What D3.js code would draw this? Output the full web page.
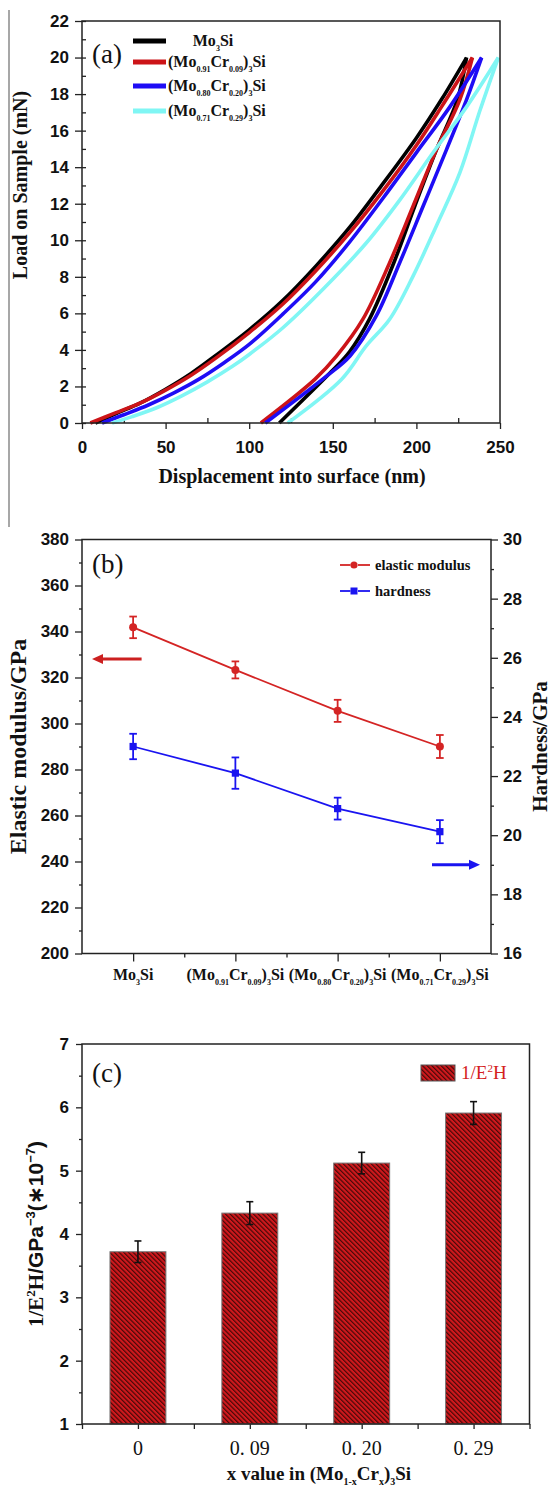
<!DOCTYPE html>
<html><head><meta charset="utf-8">
<script src="https://cdn.jsdelivr.net/npm/d3@7"></script>
<style>body{margin:0;background:#fff} svg{display:block}</style>
</head><body><svg id="c" width="555" height="1491"></svg>
<script>
// ---------------- DATA ----------------
// panel (a): load–displacement curves
const seriesNames = ["Mo3Si", "x=0.09", "x=0.20", "x=0.29"];
const alloyMo = ["", "0.91", "0.80", "0.71"];
const alloyCr = ["", "0.09", "0.20", "0.29"];

const loadDepth_0  = [8,20,35,50,65,80,100,120,140,160,180,200,215,230];
const loadForce_0  = [0,0.5,1.1,1.85,2.7,3.7,5.1,6.7,8.6,10.7,13.1,15.6,17.7,20];
const unloadDepth_0 = [230,224.5,212,199,186.5,172,160,149,118];
const unloadForce_0 = [20,17.7,14.96,11.86,8.77,5.7,3.9,2.8,0];

const loadDepth_1  = [5,20,35,50,65,80,100,120,140,160,180,200,215,233.5];
const loadForce_1  = [0,0.55,1.1,1.8,2.6,3.55,4.95,6.5,8.35,10.4,12.7,15.2,17.3,20];
const unloadDepth_1 = [233.5,226,212,198,184,168,152.3,139.4,107];
const unloadForce_1 = [20,17.7,14.96,11.86,8.77,5.68,3.67,2.4,0];

const loadDepth_2  = [12,25,40,55,70,85,100,120,140,160,180,200,220,239];
const loadForce_2  = [0,0.45,1.0,1.65,2.4,3.3,4.3,5.95,7.75,9.9,12.3,14.8,17.3,20];
const unloadDepth_2 = [239,230,218,204,190,176,160.3,145.3,109.6];
const unloadForce_2 = [20,17.7,14.96,11.86,8.77,5.86,3.67,2.5,0];

const loadDepth_3  = [18,30,45,60,75,90,100,120,145,170,190,210,230,249];
const loadForce_3  = [0,0.35,0.85,1.5,2.25,3.1,3.75,5.2,7.4,9.85,12.2,14.8,17.3,20];
const unloadDepth_3 = [249,238,226,212,198,184,170,155.3,123];
const unloadForce_3 = [20,17.1,13.7,10.8,8.04,5.68,4.22,2.4,0];

const xTicksA = [0,50,100,150,200,250];
const yTicksA = [0,2,4,6,8,10,12,14,16,18,20,22];

// panel (b)
const elasticModulus = [341.8, 323.3, 305.5, 290];
const elasticErr     = [4.7, 3.7, 4.8, 5];
const hardness       = [23.0, 22.1, 20.9, 20.12];
const hardnessErr    = [0.43, 0.53, 0.37, 0.39];
const yTicksBL = [200,220,240,260,280,300,320,340,360,380];
const yTicksBR = [16,18,20,22,24,26,28,30];

// panel (c)
const xLabelsC = ["0", "0. 09", "0. 20", "0. 29"];
const invE2H    = [3.72, 4.33, 5.12, 5.91];
const invE2HErr = [0.17, 0.18, 0.17, 0.18];
const yTicksC = [1,2,3,4,5,6,7];

// ---------------- DRAW ----------------
const svg = d3.select('#c');
const SERIF = "'Liberation Serif','Times New Roman',serif";
const SANS = "'Liberation Sans',Arial,sans-serif";
const colorsA = ['#000000', '#cc1418', '#1e0cf5', '#80f6f4'];

function rich(sel, parts, subSize, shift) {
  let cur = 0;
  parts.forEach(p => {
    const target = p.k === 'sub' ? shift : p.k === 'sup' ? -shift : 0;
    const t = sel.append('tspan').text(p.t).attr('dy', target - cur);
    if (p.k) t.attr('font-size', subSize);
    if (p.f) t.attr('font-family', p.f);
    cur = target;
  });
}
function alloyParts(i) {
  if (alloyMo[i] === '') return [{t:'Mo'},{t:'3',k:'sub'},{t:'Si'}];
  return [{t:'(Mo'},{t:alloyMo[i],k:'sub'},{t:'Cr'},{t:alloyCr[i],k:'sub'},{t:')'},{t:'3',k:'sub'},{t:'Si'}];
}
function styleAxis(g, size) {
  g.select('.domain').remove();
  g.selectAll('.tick line').attr('stroke', '#222').attr('stroke-width', 1.3);
  g.selectAll('.tick text').attr('font-family', SANS).attr('font-weight', 'bold')
    .attr('font-size', size).attr('fill', '#111');
}

// stray left border line
svg.append('line').attr('x1', 9).attr('x2', 9).attr('y1', 10).attr('y2', 527)
  .attr('stroke', '#8a8a8a').attr('stroke-width', 1.5);

// ===== Panel (a) =====
const xA = d3.scaleLinear().domain([0, 250]).range([82, 500]);
const yA = d3.scaleLinear().domain([0, 22]).range([423, 21]);

const gAy = svg.append('g').attr('transform', 'translate(82,0)')
  .call(d3.axisLeft(yA).tickValues(yTicksA).tickSize(7).tickPadding(6));
styleAxis(gAy, 17);
const gAy2 = svg.append('g').attr('transform', 'translate(82,0)')
  .call(d3.axisLeft(yA).tickValues(d3.range(0, 23, 1)).tickSize(-4).tickFormat(''));
styleAxis(gAy2, 17);
const gAx = svg.append('g').attr('transform', 'translate(0,423)')
  .call(d3.axisBottom(xA).tickValues(xTicksA).tickSize(6).tickPadding(12));
styleAxis(gAx, 17);
const gAx2 = svg.append('g').attr('transform', 'translate(0,423)')
  .call(d3.axisBottom(xA).tickValues([25,75,125,175,225]).tickSize(-5).tickFormat(''));
styleAxis(gAx2, 17);

const lineA = d3.line().x(d => xA(d[0])).y(d => yA(d[1])).curve(d3.curveCatmullRom.alpha(0.5));
const curvesA = [
  [loadDepth_0, loadForce_0, unloadDepth_0, unloadForce_0],
  [loadDepth_1, loadForce_1, unloadDepth_1, unloadForce_1],
  [loadDepth_2, loadForce_2, unloadDepth_2, unloadForce_2],
  [loadDepth_3, loadForce_3, unloadDepth_3, unloadForce_3]
];
curvesA.forEach((c, i) => {
  const load = c[0].map((h, j) => [h, c[1][j]]);
  const unload = c[2].map((h, j) => [h, c[3][j]]);
  svg.append('path').attr('d', lineA(load)).attr('fill', 'none')
    .attr('stroke', colorsA[i]).attr('stroke-width', 3.6).attr('stroke-linejoin', 'round');
  svg.append('path').attr('d', lineA(unload)).attr('fill', 'none')
    .attr('stroke', colorsA[i]).attr('stroke-width', 3.6).attr('stroke-linejoin', 'round');
});
svg.append('rect').attr('x', 82).attr('y', 21).attr('width', 418).attr('height', 402)
  .attr('fill', 'none').attr('stroke', '#222').attr('stroke-width', 1.5);

// legend (a)
const legYA = [41, 62, 86, 111];
seriesNames.forEach((s, i) => {
  svg.append('line').attr('x1', 133).attr('x2', 166).attr('y1', legYA[i]).attr('y2', legYA[i])
    .attr('stroke', colorsA[i]).attr('stroke-width', 5);
  const t = svg.append('text').attr('y', legYA[i] + 5)
    .attr('font-family', SERIF).attr('font-weight', 'bold').attr('font-size', 16).attr('fill', '#111');
  if (i === 0) t.attr('x', 213).attr('text-anchor', 'middle'); else t.attr('x', 168);
  rich(t, alloyParts(i), 8, 5);
});
svg.append('text').attr('x', 92).attr('y', 63).text('(a)')
  .attr('font-family', SERIF).attr('font-size', 27).attr('fill', '#111');
svg.append('text').attr('transform', 'translate(27,185) rotate(-90)').attr('text-anchor', 'middle')
  .text('Load on Sample (mN)').attr('font-family', SERIF).attr('font-weight', 'bold')
  .attr('font-size', 20).attr('fill', '#111');
svg.append('text').attr('x', 292).attr('y', 483).attr('text-anchor', 'middle')
  .text('Displacement into surface (nm)').attr('font-family', SERIF).attr('font-weight', 'bold')
  .attr('font-size', 20).attr('fill', '#111');

// ===== Panel (b) =====
const xB = d3.scalePoint().domain(d3.range(4)).range([82, 491]).padding(0.5);
const yBL = d3.scaleLinear().domain([200, 380]).range([953.5, 539.5]);
const yBR = d3.scaleLinear().domain([16, 30]).range([953.5, 539.5]);

const gBl = svg.append('g').attr('transform', 'translate(82,0)')
  .call(d3.axisLeft(yBL).tickValues(yTicksBL).tickSize(7).tickPadding(6));
styleAxis(gBl, 17);
const gBl2 = svg.append('g').attr('transform', 'translate(82,0)')
  .call(d3.axisLeft(yBL).tickValues([210,230,250,270,290,310,330,350,370]).tickSize(3).tickFormat(''));
styleAxis(gBl2, 17);
const gBr = svg.append('g').attr('transform', 'translate(491,0)')
  .call(d3.axisRight(yBR).tickValues(yTicksBR).tickSize(7).tickPadding(5));
styleAxis(gBr, 17);
const gBr2 = svg.append('g').attr('transform', 'translate(491,0)')
  .call(d3.axisRight(yBR).tickValues([17,19,21,23,25,27,29]).tickSize(3).tickFormat(''));
styleAxis(gBr2, 17);
const gBx = svg.append('g').attr('transform', 'translate(0,953.5)')
  .call(d3.axisBottom(xB).tickSize(8).tickFormat(''));
styleAxis(gBx, 17);
const gBx2 = svg.append('g').attr('transform', 'translate(0,953.5)')
  .call(d3.axisBottom(d3.scaleLinear().domain([0, 4]).range([82, 491])).tickValues([1,2,3]).tickSize(4).tickFormat(''));
styleAxis(gBx2, 17);

svg.append('rect').attr('x', 82).attr('y', 539.5).attr('width', 409).attr('height', 414)
  .attr('fill', 'none').attr('stroke', '#222').attr('stroke-width', 1.5);

const redB = '#d42424', blueB = '#1a14f0';
svg.append('path').datum(elasticModulus)
  .attr('d', d3.line().x((d, i) => xB(i)).y(d => yBL(d)))
  .attr('fill', 'none').attr('stroke', redB).attr('stroke-width', 1.8);
svg.append('path').datum(hardness)
  .attr('d', d3.line().x((d, i) => xB(i)).y(d => yBR(d)))
  .attr('fill', 'none').attr('stroke', blueB).attr('stroke-width', 1.8);

function errBar(x, y1, y2, color, cap, w) {
  const g = svg.append('g').attr('stroke', color).attr('stroke-width', w);
  g.append('line').attr('x1', x).attr('x2', x).attr('y1', y1).attr('y2', y2);
  g.append('line').attr('x1', x - cap).attr('x2', x + cap).attr('y1', y1).attr('y2', y1);
  g.append('line').attr('x1', x - cap).attr('x2', x + cap).attr('y1', y2).attr('y2', y2);
}
elasticModulus.forEach((v, i) => {
  errBar(xB(i), yBL(v + elasticErr[i]), yBL(v - elasticErr[i]), redB, 3.8, 1.8);
  svg.append('circle').attr('cx', xB(i)).attr('cy', yBL(v)).attr('r', 4).attr('fill', redB);
});
hardness.forEach((v, i) => {
  errBar(xB(i), yBR(v + hardnessErr[i]), yBR(v - hardnessErr[i]), blueB, 3.8, 1.8);
  svg.append('rect').attr('x', xB(i) - 3.6).attr('y', yBR(v) - 3.6).attr('width', 7.2).attr('height', 7.2).attr('fill', blueB);
});

// x labels (b)
d3.range(4).forEach(i => {
  const t = svg.append('text').attr('x', xB(i)).attr('y', 980).attr('text-anchor', 'middle')
    .attr('font-family', SERIF).attr('font-weight', 'bold').attr('font-size', 16).attr('fill', '#111');
  rich(t, alloyParts(i), 8, 5);
});

// legend (b)
[[565, redB, 'elastic modulus', 'c'], [591, blueB, 'hardness', 's']].forEach(([y, col, lab, m]) => {
  svg.append('line').attr('x1', 340).attr('x2', 350.5).attr('y1', y).attr('y2', y).attr('stroke', col).attr('stroke-width', 1.8);
  svg.append('line').attr('x1', 358).attr('x2', 370).attr('y1', y).attr('y2', y).attr('stroke', col).attr('stroke-width', 1.8);
  if (m === 'c') svg.append('circle').attr('cx', 354).attr('cy', y).attr('r', 3.6).attr('fill', col);
  else svg.append('rect').attr('x', 350.5).attr('y', y - 3.5).attr('width', 7).attr('height', 7).attr('fill', col);
  svg.append('text').attr('x', 375).attr('y', y + 5).text(lab)
    .attr('font-family', SERIF).attr('font-weight', 'bold').attr('font-size', 14.5).attr('fill', '#111');
});
svg.append('text').attr('x', 92).attr('y', 573).text('(b)')
  .attr('font-family', SERIF).attr('font-size', 27).attr('fill', '#111');

// arrows (b)
const defs = svg.append('defs');
function arrowHead(x, y, dir, col) {
  svg.append('path').attr('d', `M${x},${y} L${x - dir * 11},${y - 5} L${x - dir * 11},${y + 5} Z`).attr('fill', col);
}
const yArrR = yBL(328);
svg.append('line').attr('x1', 100).attr('x2', 141.6).attr('y1', yArrR).attr('y2', yArrR).attr('stroke', '#cc2020').attr('stroke-width', 3);
arrowHead(92, yArrR, -1, '#cc2020');
const yArrB = yBR(19);
svg.append('line').attr('x1', 432).attr('x2', 472).attr('y1', yArrB).attr('y2', yArrB).attr('stroke', blueB).attr('stroke-width', 3);
arrowHead(480, yArrB, 1, blueB);

svg.append('text').attr('transform', `translate(26,${(539.5 + 953.5) / 2}) rotate(-90)`).attr('text-anchor', 'middle')
  .text('Elastic modulus/GPa').attr('font-family', SERIF).attr('font-weight', 'bold')
  .attr('font-size', 24).attr('fill', '#111');
svg.append('text').attr('transform', `translate(547,${(539.5 + 953.5) / 2}) rotate(-90)`).attr('text-anchor', 'middle')
  .text('Hardness/GPa').attr('font-family', SERIF).attr('font-weight', 'bold')
  .attr('font-size', 21).attr('fill', '#111');

// ===== Panel (c) =====
const xC = d3.scaleBand().domain(d3.range(4)).range([82, 529.5]).paddingInner(0.5).paddingOuter(0.25);
const yC = d3.scaleLinear().domain([1, 7]).range([1424, 1044]);

const pat = defs.append('pattern').attr('id', 'hatch').attr('patternUnits', 'userSpaceOnUse')
  .attr('width', 3.3).attr('height', 3.3).attr('patternTransform', 'rotate(-45)');
pat.append('rect').attr('width', 3.3).attr('height', 3.3).attr('fill', '#d0191d');
pat.append('line').attr('x1', 0.6).attr('x2', 0.6).attr('y1', 0).attr('y2', 3.3)
  .attr('stroke', '#3a0606').attr('stroke-width', 1.1);

const gCy = svg.append('g').attr('transform', 'translate(82,0)')
  .call(d3.axisLeft(yC).tickValues(yTicksC).tickFormat(d3.format('d')).tickSize(6).tickPadding(7));
styleAxis(gCy, 17);
const gCy2 = svg.append('g').attr('transform', 'translate(82,0)')
  .call(d3.axisLeft(yC).tickValues([1.5,2.5,3.5,4.5,5.5,6.5]).tickSize(3).tickFormat(''));
styleAxis(gCy2, 17);
const gCx = svg.append('g').attr('transform', 'translate(0,1424)')
  .call(d3.axisBottom(d3.scaleLinear().domain([0, 8]).range([82, 529.5])).tickValues(d3.range(0, 9)).tickSize(5).tickFormat(''));
styleAxis(gCx, 17);

invE2H.forEach((v, i) => {
  svg.append('rect').attr('x', xC(i)).attr('y', yC(v)).attr('width', xC.bandwidth()).attr('height', yC(1) - yC(v))
    .attr('fill', 'url(#hatch)').attr('stroke', '#777').attr('stroke-width', 1);
  const cx = xC(i) + xC.bandwidth() / 2;
  errBar(cx, yC(v + invE2HErr[i]), yC(v - invE2HErr[i]), '#111', 3.5, 1.6);
  svg.append('text').attr('x', cx).attr('y', 1455).attr('text-anchor', 'middle').text(xLabelsC[i])
    .attr('font-family', SERIF).attr('font-size', 20).attr('fill', '#111');
});
svg.append('rect').attr('x', 82).attr('y', 1044).attr('width', 447.5).attr('height', 380)
  .attr('fill', 'none').attr('stroke', '#222').attr('stroke-width', 1.5);

// legend (c)
svg.append('rect').attr('x', 421).attr('y', 1065).attr('width', 34).attr('height', 16)
  .attr('fill', 'url(#hatch)').attr('stroke', '#555').attr('stroke-width', 1);
const lt = svg.append('text').attr('x', 461).attr('y', 1079)
  .attr('font-family', SERIF).attr('font-size', 19).attr('fill', '#d42020');
rich(lt, [{t:'1/E'},{t:'2',k:'sup'},{t:'H'}], 11, 7);

svg.append('text').attr('x', 92).attr('y', 1082).text('(c)')
  .attr('font-family', SERIF).attr('font-size', 27).attr('fill', '#111');

const ylc = svg.append('text').attr('transform', `translate(43,${(1044 + 1424) / 2}) rotate(-90)`).attr('text-anchor', 'middle')
  .attr('font-family', SERIF).attr('font-weight', 'bold').attr('font-size', 21).attr('fill', '#111');
rich(ylc, [{t:'1/E'},{t:'2',k:'sup'},{t:'H'},{t:'/GPa',f:SANS},{t:'−3',k:'sup',f:SANS},{t:'(∗10',f:SANS},{t:'−7',k:'sup',f:SANS},{t:')',f:SANS}], 13, 8);

const xtc = svg.append('text').attr('x', 319).attr('y', 1480).attr('text-anchor', 'middle')
  .attr('font-family', SERIF).attr('font-weight', 'bold').attr('font-size', 19).attr('fill', '#111');
rich(xtc, [{t:'x value in (Mo'},{t:'1-x',k:'sub'},{t:'Cr'},{t:'x',k:'sub'},{t:')'},{t:'3',k:'sub'},{t:'Si'}], 10, 5);
</script></body></html>
